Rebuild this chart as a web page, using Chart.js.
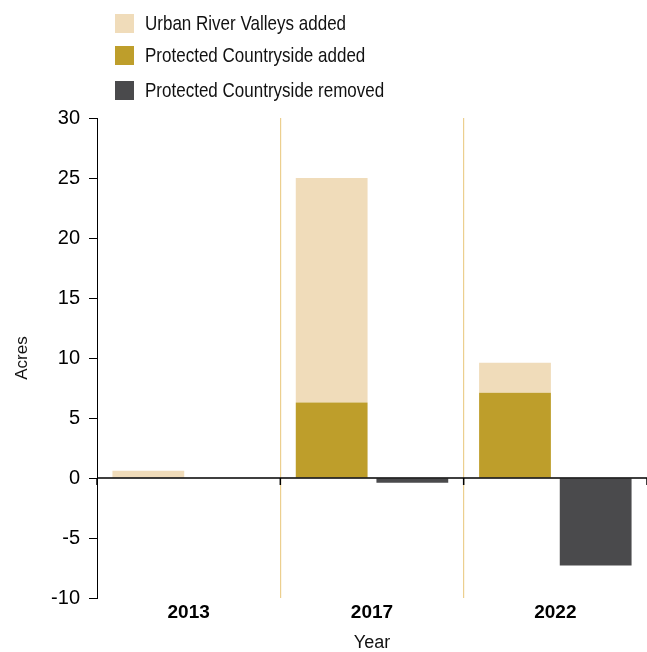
<!DOCTYPE html>
<html>
<head>
<meta charset="utf-8">
<script src="https://cdn.jsdelivr.net/npm/chart.js@4.4.1/dist/chart.umd.min.js"></script>
<style>
  html, body { margin: 0; padding: 0; background: #fff; }
  #wrap { position: relative; width: 647px; height: 652px; }
  #legend { position: absolute; left: 115px; top: 0; font-family: "Liberation Sans", Arial, sans-serif; font-size: 21px; color: #111; }
  .item { position: absolute; left: 0; white-space: nowrap; height: 19px; }
  .item span.box { position: absolute; left: 0; top: 0; width: 19px; height: 19px; }
  .item span.txt { position: absolute; left: 30px; top: -3px; line-height: 24px; transform: scaleX(0.81); transform-origin: left center; }
</style>
</head>
<body>
<div id="wrap">
  <canvas id="chart" width="647" height="652"></canvas>
  <div id="legend"></div>
</div>
<script>
  // data
  const categories = ["2013", "2017", "2022"];
  const urbanRiverAdded = [0.6, 18.7, 2.5];
  const countrysideAdded = [0, 6.3, 7.1];
  const countrysideRemoved = [0, -0.4, -7.3];
  const yMin = -10, yMax = 30, yStep = 5;

  const COLORS = {
    urban: "#f0dcba",
    added: "#be9e2b",
    removed: "#4a4a4c",
    grid: "#eccf8f",
  };

  const sans = "'Liberation Sans', Arial, sans-serif";

  // legend (html, top-left)
  const legendItems = [
    { label: "Urban River Valleys added", color: COLORS.urban, top: 14 },
    { label: "Protected Countryside added", color: COLORS.added, top: 46 },
    { label: "Protected Countryside removed", color: COLORS.removed, top: 81 },
  ];
  const legend = document.getElementById("legend");
  legendItems.forEach((it) => {
    const d = document.createElement("div");
    d.className = "item";
    d.style.top = it.top + "px";
    d.innerHTML = `<span class="box" style="background:${it.color}"></span><span class="txt">${it.label}</span>`;
    legend.appendChild(d);
  });

  // zero line + small tick marks on it at category boundaries
  const zeroTicks = {
    id: "zeroTicks",
    afterDatasetsDraw(chart) {
      const x = chart.scales.x, y = chart.scales.y;
      const y0 = y.getPixelForValue(0);
      const n = x.ticks.length;
      const half = (x.getPixelForTick(1) - x.getPixelForTick(0)) / 2;
      const ctx = chart.ctx;
      ctx.save();
      ctx.strokeStyle = "#000";
      ctx.lineWidth = 1.5;
      ctx.beginPath();
      ctx.moveTo(chart.chartArea.left, y0);
      ctx.lineTo(chart.chartArea.right, y0);
      for (let i = 0; i <= n; i++) {
        const px = i < n ? x.getPixelForTick(i) - half : x.getPixelForTick(n - 1) + half;
        ctx.moveTo(px, y0);
        ctx.lineTo(px, y0 + 7);
      }
      ctx.stroke();
      ctx.restore();
    },
  };

  new Chart(document.getElementById("chart"), {
    type: "bar",
    data: {
      labels: categories,
      datasets: [
        { label: "Protected Countryside added", data: countrysideAdded, backgroundColor: COLORS.added, stack: "added" },
        { label: "Urban River Valleys added", data: urbanRiverAdded, backgroundColor: COLORS.urban, stack: "added" },
        { label: "Protected Countryside removed", data: countrysideRemoved, backgroundColor: COLORS.removed, stack: "removed" },
      ],
    },
    options: {
      responsive: false,
      animation: false,
      categoryPercentage: 0.88,
      barPercentage: 0.89,
      layout: { padding: { top: 118, right: 0, left: 0, bottom: 0 } },
      plugins: {
        legend: { display: false },
        tooltip: { enabled: false },
      },
      scales: {
        x: {
          stacked: true,
          border: { display: false },
          grid: {
            drawTicks: false,
            lineWidth: 1.2,
            color: (c) => (c.index === 1 || c.index === 2 ? COLORS.grid : "rgba(0,0,0,0)"),
          },
          ticks: { color: "#000", padding: 3, font: { family: sans, size: 19, weight: "bold" } },
          title: { display: true, text: "Year", color: "#111", padding: { top: 0, bottom: 0 }, font: { family: sans, size: 18, lineHeight: 1 } },
          afterFit(scale) { scale.height = 54; },
        },
        y: {
          stacked: true,
          min: yMin,
          max: yMax,
          border: { display: true, color: "#000", width: 1 },
          grid: { drawOnChartArea: false, tickLength: 8, tickColor: "#000" },
          ticks: { stepSize: yStep, color: "#000", padding: 9, font: { family: sans, size: 20 } },
          title: { display: true, text: "Acres", color: "#111", padding: { top: 12, bottom: 0 }, font: { family: sans, size: 17 } },
          afterFit(scale) { scale.width = 97; },
        },
      },
    },
    plugins: [zeroTicks],
  });
</script>
</body>
</html>
